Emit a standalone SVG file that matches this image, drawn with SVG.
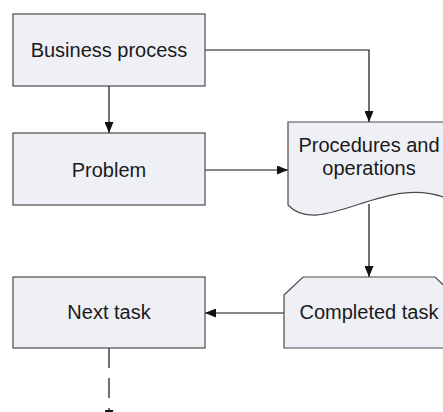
<svg xmlns="http://www.w3.org/2000/svg" width="443" height="412" viewBox="0 0 443 412">
<defs>
<style>
.node{fill:#EEF0F6;stroke:#4a4a4a;stroke-width:1.2}
.lbl{font-family:"Liberation Sans",Arial,sans-serif;font-size:20px;fill:#1a1a1a;text-anchor:middle}
.conn{fill:none;stroke:#111;stroke-width:1.2}
</style>
<marker id="arr" viewBox="0 0 11 9" refX="11" refY="4.5" markerWidth="11" markerHeight="9" markerUnits="userSpaceOnUse" orient="auto">
<path d="M0,0 L11,4.5 L0,9 Z" fill="#111"/>
</marker>
</defs>
<rect width="443" height="412" fill="#fff"/>
<g id="connectors">
<path class="conn" d="M205,50 H369 V122" marker-end="url(#arr)"/>
<path class="conn" d="M109,86 V133" marker-end="url(#arr)"/>
<path class="conn" d="M205,170 H288" marker-end="url(#arr)"/>
<path class="conn" d="M369,204 V277" marker-end="url(#arr)"/>
<path class="conn" d="M284,313 H205" marker-end="url(#arr)"/>
<path class="conn" d="M109,348 V421" stroke-dasharray="20,10" marker-end="url(#arr)"/>
</g>
<g id="business-process">
<rect class="node" x="13" y="14" width="192" height="72"/>
<text class="lbl" x="109" y="57">Business process</text>
</g>
<g id="problem">
<rect class="node" x="13" y="133" width="192" height="72"/>
<text class="lbl" x="109" y="177">Problem</text>
</g>
<g id="procedures">
<path class="node" d="M288,122 H450 V200 C390,170 320,240 288,205 Z"/>
<text class="lbl" x="369" y="152">Procedures and</text>
<text class="lbl" x="369" y="175">operations</text>
</g>
<g id="next-task">
<rect class="node" x="13" y="277" width="192" height="71"/>
<text class="lbl" x="109" y="319">Next task</text>
</g>
<g id="completed-task">
<path class="node" d="M284,295 L303,277 H435 L454,295 V348 H284 Z"/>
<text class="lbl" x="369" y="319">Completed task</text>
</g>
</svg>
